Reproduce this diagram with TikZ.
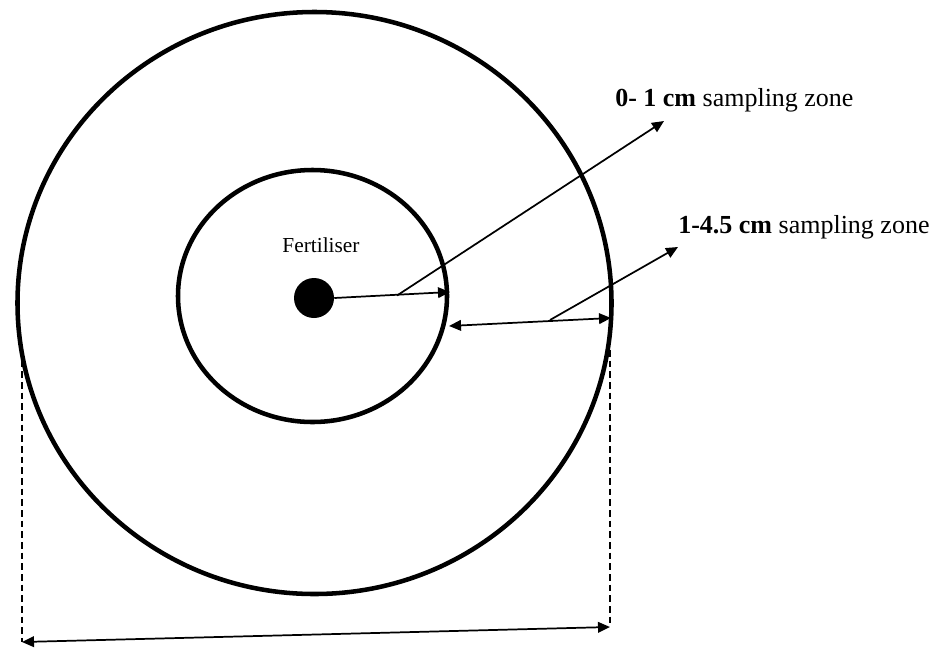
\documentclass[tikz,border=0pt]{standalone}
\usepackage{fontspec}
\setmainfont{Liberation Serif}
\usetikzlibrary{arrows.meta}
\tikzset{
  ring/.style={line width=3.4pt},
  zonearrow/.style={line width=1.3pt,-{Triangle[length=9pt,width=8pt]}},
  dimline/.style={line width=1.5pt,dash pattern=on 5pt off 3pt},
  zonelabel/.style={font=\fontsize{19.5}{22}\selectfont,anchor=west,inner sep=0pt}
}
\begin{document}
\begin{tikzpicture}[x=0.75pt,y=-0.75pt]
  \useasboundingbox (0,0) rectangle (937,650);
  % rings and fertiliser
  \draw[ring] (314.5,303) ellipse [x radius=297,y radius=291];
  \draw[ring] (312.5,296) ellipse [x radius=134.5,y radius=126];
  \node[circle,fill=black,minimum size=40*0.75pt,inner sep=0pt] (fert) at (314,298) {};
  \node[font=\fontsize{16}{18}\selectfont,inner sep=0pt] (fertlbl) at (321,245) {Fertiliser};
  % points on the rings
  \coordinate (inner) at (450,292);
  \coordinate (innerR) at (449,326);
  \coordinate (outerR) at (611,318);
  \coordinate (lead1) at (397,295.5);
  \coordinate (lead2) at (550,320);
  \coordinate (tip1) at (664,121);
  \coordinate (tip2) at (678,247);
  \coordinate (dimL) at (22,350);
  \coordinate (dimR) at (610,350);
  \coordinate (dimLb) at (22,642);
  \coordinate (dimRb) at (610,627);
  % 0-1 cm zone
  \draw[zonearrow] (fert.east) -- (inner);
  \draw[zonearrow] (lead1) -- (tip1);
  \node[zonelabel] (lbl1) at (615,100) {\textbf{0- 1 cm} sampling zone};
  % 1-4.5 cm zone
  \draw[zonearrow,{Triangle[length=9pt,width=8pt]}-{Triangle[length=9pt,width=8pt]}] (innerR) -- (outerR);
  \draw[zonearrow] (lead2) -- (tip2);
  \node[zonelabel] (lbl2) at (678,227) {\textbf{1-4.5 cm} sampling zone};
  % diameter
  \draw[dimline] (dimL) -- (dimLb);
  \draw[dimline] (dimR) -- (dimRb);
  \draw[zonearrow,{Triangle[length=9pt,width=8pt]}-{Triangle[length=9pt,width=8pt]}] (dimLb) -- (dimRb);
\end{tikzpicture}
\end{document}
